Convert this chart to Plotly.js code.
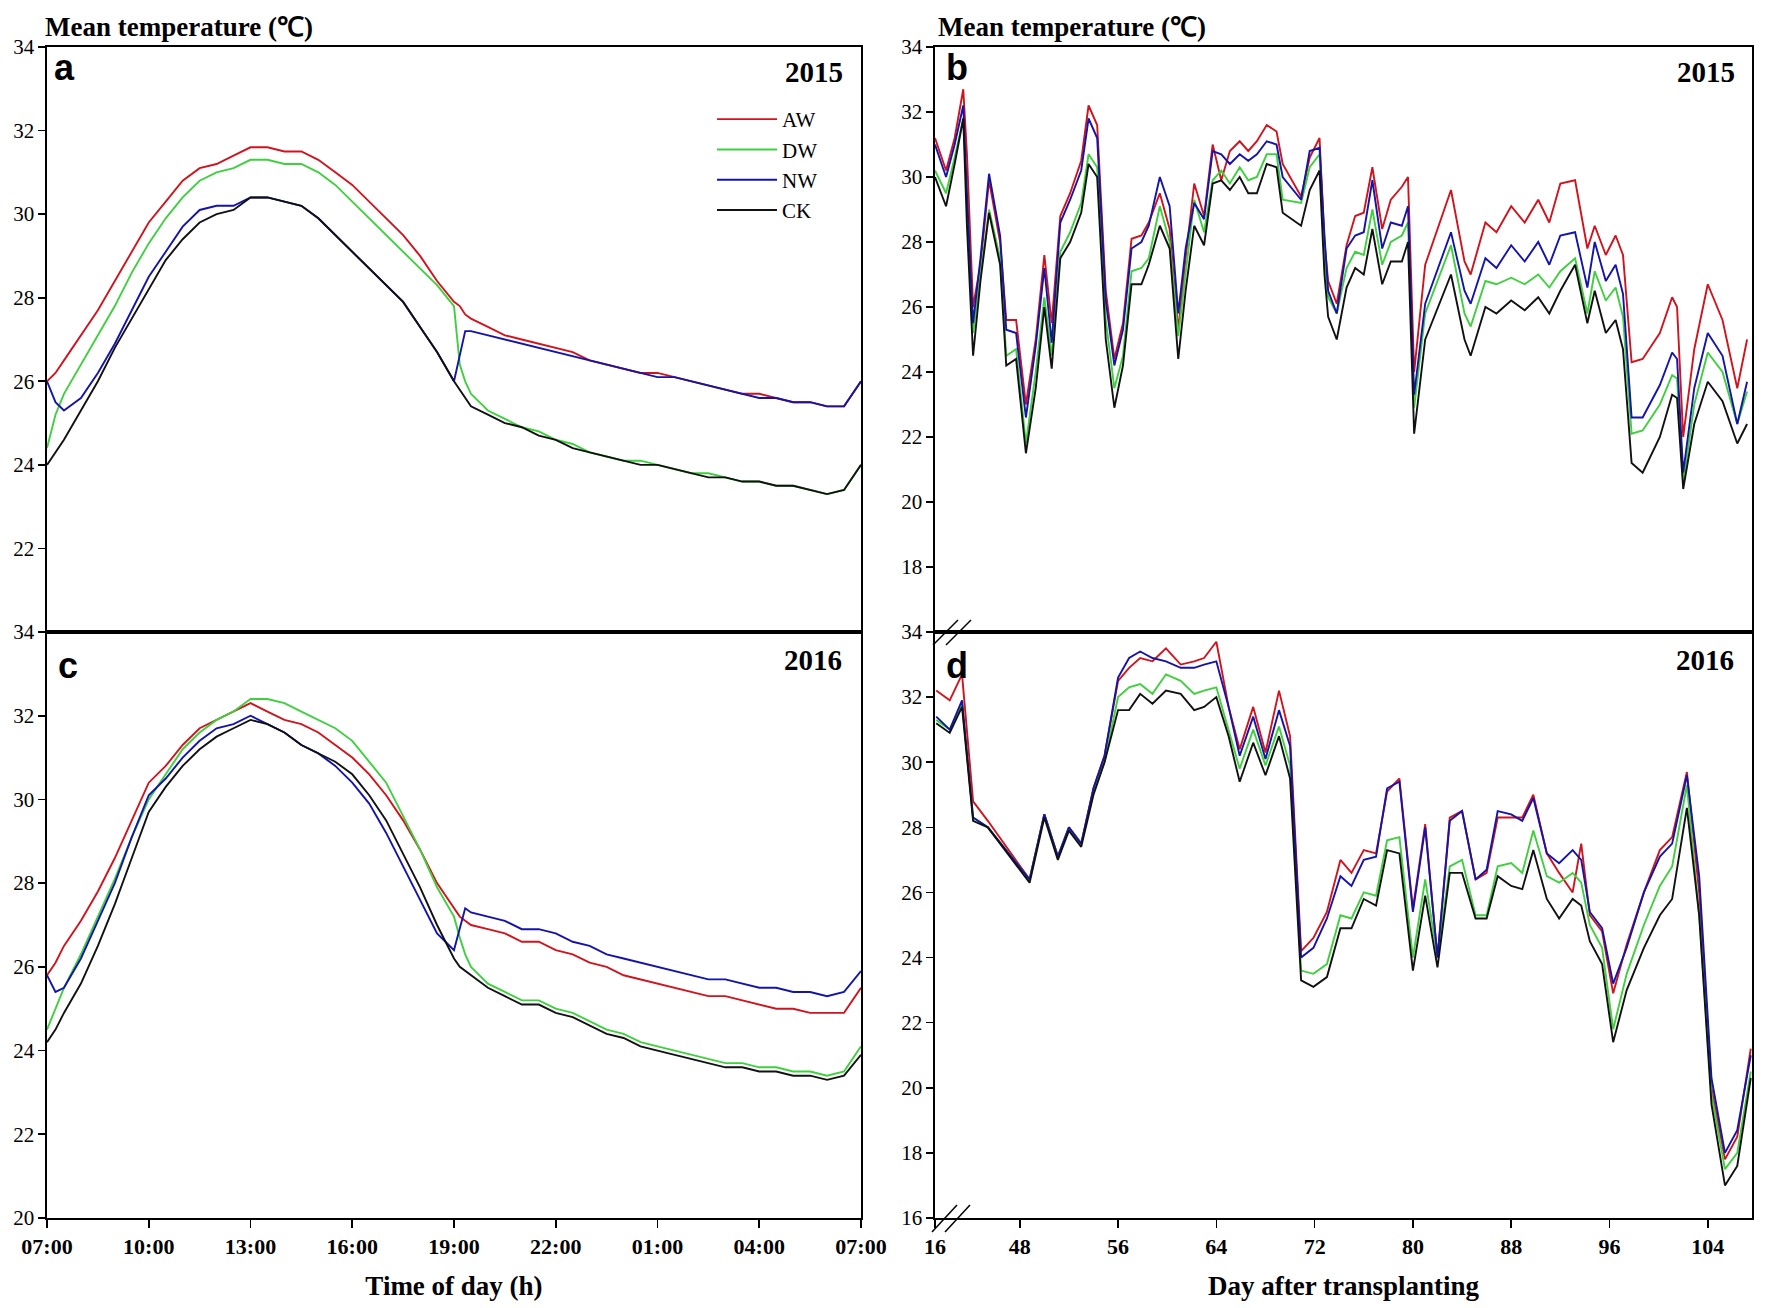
<!DOCTYPE html>
<html>
<head>
<meta charset="utf-8">
<script src="https://cdn.plot.ly/plotly-3.0.1.min.js"></script>
<style>html,body{margin:0;padding:0;background:#fff;}#chart{width:1772px;height:1308px;}</style>
</head>
<body>
<div id="chart"></div>
<script>
// ---------- DATA ----------
const seriesNames = ["AW", "DW", "NW", "CK"];
const hourTickVals = [0, 3, 6, 9, 12, 15, 18, 21, 24];
const hourTickText = ["07:00", "10:00", "13:00", "16:00", "19:00", "22:00", "01:00", "04:00", "07:00"];
const dayTickVals = [41.1, 48, 56, 64, 72, 80, 88, 96, 104];
const dayTickText = ["16", "48", "56", "64", "72", "80", "88", "96", "104"];

// hours after 07:00
const hours = [0,0.25,0.5,1,1.5,2,2.5,3,3.5,4,4.5,5,5.5,6,6.5,7,7.5,8,8.5,9,9.5,10,10.5,11,11.5,12,12.17,12.33,12.5,13,13.5,14,14.5,15,15.5,16,16.5,17,17.5,18,18.5,19,19.5,20,20.5,21,21.5,22,22.5,23,23.5,24];

// panel a (2015, diurnal)
const a_AW = [26.0,26.2,26.5,27.1,27.7,28.4,29.1,29.8,30.3,30.8,31.1,31.2,31.4,31.6,31.6,31.5,31.5,31.3,31.0,30.7,30.3,29.9,29.5,29.0,28.4,27.9,27.8,27.6,27.5,27.3,27.1,27.0,26.9,26.8,26.7,26.5,26.4,26.3,26.2,26.2,26.1,26.0,25.9,25.8,25.7,25.7,25.6,25.5,25.5,25.4,25.4,26.0];
const a_DW = [24.4,25.2,25.7,26.4,27.1,27.8,28.6,29.3,29.9,30.4,30.8,31.0,31.1,31.3,31.3,31.2,31.2,31.0,30.7,30.3,29.9,29.5,29.1,28.7,28.3,27.8,26.4,26.0,25.7,25.3,25.1,24.9,24.8,24.6,24.5,24.3,24.2,24.1,24.1,24.0,23.9,23.8,23.8,23.7,23.6,23.6,23.5,23.5,23.4,23.3,23.4,24.0];
const a_NW = [26.0,25.5,25.3,25.6,26.2,26.9,27.7,28.5,29.1,29.7,30.1,30.2,30.2,30.4,30.4,30.3,30.2,29.9,29.5,29.1,28.7,28.3,27.9,27.3,26.7,26.0,26.6,27.2,27.2,27.1,27.0,26.9,26.8,26.7,26.6,26.5,26.4,26.3,26.2,26.1,26.1,26.0,25.9,25.8,25.7,25.6,25.6,25.5,25.5,25.4,25.4,26.0];
const a_CK = [24.0,24.3,24.6,25.3,26.0,26.8,27.5,28.2,28.9,29.4,29.8,30.0,30.1,30.4,30.4,30.3,30.2,29.9,29.5,29.1,28.7,28.3,27.9,27.3,26.7,26.0,25.8,25.6,25.4,25.2,25.0,24.9,24.7,24.6,24.4,24.3,24.2,24.1,24.0,24.0,23.9,23.8,23.7,23.7,23.6,23.6,23.5,23.5,23.4,23.3,23.4,24.0];

// panel c (2016, diurnal)
const c_AW = [25.8,26.1,26.5,27.1,27.8,28.6,29.5,30.4,30.8,31.3,31.7,31.9,32.1,32.3,32.1,31.9,31.8,31.6,31.3,31.0,30.6,30.1,29.5,28.8,28.0,27.4,27.2,27.1,27.0,26.9,26.8,26.6,26.6,26.4,26.3,26.1,26.0,25.8,25.7,25.6,25.5,25.4,25.3,25.3,25.2,25.1,25.0,25.0,24.9,24.9,24.9,25.5];
const c_DW = [24.5,25.0,25.5,26.3,27.2,28.1,29.1,30.0,30.6,31.2,31.6,31.9,32.1,32.4,32.4,32.3,32.1,31.9,31.7,31.4,30.9,30.4,29.6,28.8,27.9,27.2,26.7,26.3,26.0,25.6,25.4,25.2,25.2,25.0,24.9,24.7,24.5,24.4,24.2,24.1,24.0,23.9,23.8,23.7,23.7,23.6,23.6,23.5,23.5,23.4,23.5,24.1];
const c_NW = [25.8,25.4,25.5,26.2,27.1,28.0,29.1,30.1,30.5,31.0,31.4,31.7,31.8,32.0,31.8,31.6,31.3,31.1,30.8,30.4,29.9,29.2,28.4,27.6,26.8,26.4,26.9,27.4,27.3,27.2,27.1,26.9,26.9,26.8,26.6,26.5,26.3,26.2,26.1,26.0,25.9,25.8,25.7,25.7,25.6,25.5,25.5,25.4,25.4,25.3,25.4,25.9];
const c_CK = [24.2,24.5,24.9,25.6,26.5,27.5,28.6,29.7,30.3,30.8,31.2,31.5,31.7,31.9,31.8,31.6,31.3,31.1,30.9,30.6,30.1,29.5,28.7,27.9,27.0,26.2,26.0,25.9,25.8,25.5,25.3,25.1,25.1,24.9,24.8,24.6,24.4,24.3,24.1,24.0,23.9,23.8,23.7,23.6,23.6,23.5,23.5,23.4,23.4,23.3,23.4,23.9];

// panel b (2015, daily)
const days2015 = [41.1,42.0,42.7,43.4,43.7,44.2,44.8,45.5,46.4,46.9,47.7,48.5,49.3,50.0,50.6,51.3,52.1,53.0,53.6,54.3,55.0,55.7,56.4,57.1,57.9,58.5,59.4,60.2,60.9,61.5,62.2,63.0,63.7,64.4,65.1,65.9,66.6,67.3,68.1,68.9,69.4,70.9,71.6,72.4,72.8,73.1,73.8,74.6,75.3,76.0,76.7,77.5,78.2,79.1,79.6,80.1,81.0,83.1,84.2,84.7,85.9,86.8,88.0,89.1,90.2,91.1,92.0,93.2,94.2,94.8,95.7,96.5,97.1,97.8,98.7,100.1,101.1,101.5,102.0,102.9,104.0,105.2,106.4,107.2];
const b_AW = [31.2,30.2,31.2,32.7,30.7,26.0,27.3,29.9,28.0,25.6,25.6,23.0,25.0,27.6,25.5,28.8,29.5,30.5,32.2,31.6,26.5,24.4,25.5,28.1,28.2,28.6,29.5,28.4,25.3,27.5,29.8,28.8,31.0,29.9,30.8,31.1,30.8,31.1,31.6,31.4,30.4,29.4,30.6,31.2,28.0,26.8,26.1,27.9,28.8,28.9,30.3,28.4,29.3,29.7,30.0,24.0,27.3,29.6,27.4,27.0,28.6,28.3,29.1,28.6,29.3,28.6,29.8,29.9,27.8,28.5,27.6,28.2,27.6,24.3,24.4,25.2,26.3,26.0,22.0,24.7,26.7,25.6,23.5,25.0];
const b_NW = [31.0,30.0,31.0,32.2,29.5,25.5,27.5,30.1,28.2,25.3,25.2,22.6,24.8,27.2,24.9,28.6,29.3,30.2,31.8,31.2,26.2,24.2,25.3,27.8,28.0,28.5,30.0,29.1,25.8,27.8,29.2,28.7,30.8,30.7,30.4,30.7,30.5,30.7,31.1,31.0,30.0,29.3,30.8,30.9,28.2,26.5,25.8,27.8,28.2,28.3,29.9,27.8,28.6,28.5,29.1,23.3,26.1,28.3,26.5,26.1,27.5,27.2,27.9,27.4,28.0,27.3,28.2,28.3,26.6,28.0,26.8,27.3,26.4,22.6,22.6,23.6,24.6,24.4,20.9,23.5,25.2,24.5,22.4,23.7];
const b_DW = [30.2,29.5,30.6,31.8,29.5,25.2,27.0,29.0,27.5,24.5,24.7,21.8,24.0,26.3,24.5,27.7,28.3,29.2,30.7,30.3,25.6,23.5,24.5,27.1,27.2,27.5,29.1,28.0,25.1,27.0,29.3,28.3,29.9,30.2,29.8,30.3,29.9,30.0,30.7,30.7,29.3,29.2,30.3,30.7,27.5,26.3,25.8,27.2,27.7,27.6,29.0,27.3,28.0,28.2,28.6,22.9,25.8,27.9,25.8,25.4,26.8,26.7,26.9,26.7,27.0,26.6,27.1,27.5,25.8,27.1,26.2,26.6,25.7,22.1,22.2,23.0,23.9,23.8,20.6,23.0,24.6,24.0,22.4,23.4];
const b_CK = [30.0,29.1,30.4,31.8,28.5,24.5,26.8,28.9,27.3,24.2,24.4,21.5,23.5,26.0,24.1,27.5,28.0,28.9,30.4,30.0,25.0,22.9,24.2,26.7,26.7,27.3,28.5,27.8,24.4,26.5,28.5,27.9,29.8,29.9,29.6,30.0,29.5,29.5,30.4,30.3,28.9,28.5,29.6,30.2,27.0,25.7,25.0,26.6,27.2,27.0,28.4,26.7,27.4,27.4,28.0,22.1,25.0,27.0,25.0,24.5,26.0,25.8,26.2,25.9,26.3,25.8,26.5,27.3,25.5,26.5,25.2,25.6,24.7,21.2,20.9,22.0,23.3,23.2,20.4,22.4,23.7,23.1,21.8,22.4];

// panel d (2016, daily)
const days2016 = [41.2,42.3,43.3,44.2,45.4,48.8,50.0,51.1,52.0,53.0,54.0,54.9,56.0,56.9,57.8,58.8,59.9,61.1,62.2,63.0,64.0,65.0,65.9,67.0,68.0,69.1,70.0,70.9,71.9,73.0,74.1,75.0,76.0,77.0,77.9,78.9,80.0,81.0,82.0,83.0,84.0,85.1,86.0,86.9,88.0,88.9,89.8,90.9,91.9,93.0,93.7,94.4,95.4,96.3,97.4,98.8,100.1,101.1,102.3,103.3,104.3,105.4,106.4,107.5];
const d_AW = [32.2,31.9,32.7,28.8,28.2,26.4,28.4,27.1,28.0,27.5,29.2,30.2,32.5,32.9,33.2,33.1,33.5,33.0,33.1,33.2,33.7,31.7,30.4,31.7,30.3,32.2,30.8,24.2,24.6,25.4,27.0,26.6,27.3,27.2,29.1,29.5,25.5,28.1,24.0,28.3,28.5,26.4,26.6,28.3,28.3,28.3,29.0,27.2,26.6,26.0,27.5,25.3,24.8,22.9,24.4,26.0,27.3,27.7,29.7,26.0,20.0,17.8,18.5,21.2];
const d_NW = [31.4,31.0,31.9,28.3,28.0,26.4,28.4,27.1,28.0,27.5,29.2,30.2,32.6,33.2,33.4,33.2,33.1,32.9,32.9,33.0,33.1,31.7,30.2,31.4,30.1,31.6,30.5,24.0,24.3,25.2,26.5,26.2,27.0,27.1,29.2,29.4,25.4,28.0,24.0,28.2,28.5,26.4,26.7,28.5,28.4,28.2,28.9,27.2,26.9,27.3,27.0,25.4,24.9,23.2,24.3,26.0,27.1,27.5,29.6,26.5,20.3,18.0,18.7,21.0];
const d_DW = [31.3,31.0,31.8,28.3,28.0,26.4,28.4,27.1,28.0,27.5,29.1,30.0,32.0,32.3,32.4,32.1,32.7,32.5,32.1,32.2,32.3,31.0,29.8,31.0,29.9,31.1,29.9,23.6,23.5,23.8,25.3,25.2,26.0,25.9,27.6,27.7,24.0,26.4,24.0,26.8,27.0,25.3,25.3,26.8,26.9,26.6,27.9,26.5,26.3,26.6,26.3,25.0,24.3,21.8,23.5,25.0,26.2,26.8,29.3,25.3,19.8,17.5,18.0,20.5];
const d_CK = [31.2,30.9,31.7,28.2,28.0,26.3,28.3,27.0,27.9,27.4,29.0,30.0,31.6,31.6,32.1,31.8,32.2,32.1,31.6,31.7,32.0,30.8,29.4,30.6,29.6,30.8,29.5,23.3,23.1,23.4,24.9,24.9,25.8,25.6,27.3,27.2,23.6,25.9,23.7,26.6,26.6,25.2,25.2,26.5,26.2,26.1,27.3,25.8,25.2,25.8,25.6,24.5,23.8,21.4,23.0,24.3,25.3,25.8,28.6,25.3,19.5,17.0,17.6,20.3];

// ---------- STYLE ----------
const W = 1772, H = 1308;
const X = p => p / W;
const Y = p => 1 - p / H;
const colors = {AW: "#d0141e", DW: "#3fcf3f", NW: "#1414a8", CK: "#111111"};
const serif = "Liberation Serif, Times New Roman, serif";
const sans = "Liberation Sans, Arial, sans-serif";

const panels = [
  {x: hours, ys: [a_AW, a_DW, a_NW, a_CK], xa: "x", ya: "y", legend: true},
  {x: days2015, ys: [b_AW, b_DW, b_NW, b_CK], xa: "x2", ya: "y2", legend: false},
  {x: hours, ys: [c_AW, c_DW, c_NW, c_CK], xa: "x3", ya: "y3", legend: false},
  {x: days2016, ys: [d_AW, d_DW, d_NW, d_CK], xa: "x4", ya: "y4", legend: false}
];

const traces = [];
panels.forEach(p => {
  seriesNames.forEach((name, i) => {
    traces.push({
      type: "scatter", mode: "lines", x: p.x, y: p.ys[i], name: name,
      xaxis: p.xa, yaxis: p.ya, legendgroup: name, showlegend: p.legend,
      legendrank: i + 1,
      line: {color: colors[name], width: 1.9},
      hoverinfo: "skip"
    });
  });
});

const leftDom = [X(47), X(861)];
const rightDom = [X(935), X(1752)];
const topDom = [Y(632), Y(47)];
const botDom = [Y(1218), Y(632)];

const baseAxis = {
  showline: true, mirror: true, linecolor: "#000", linewidth: 1.6,
  showgrid: false, zeroline: false, fixedrange: true
};
const yTickFont = {family: serif, size: 21, color: "#000"};
const xTickFont = {family: serif, size: 22, color: "#000", weight: "bold"};

const layout = {
  width: W, height: H,
  margin: {l: 0, r: 0, t: 0, b: 0},
  paper_bgcolor: "#fff", plot_bgcolor: "#fff",
  showlegend: true,
  legend: {
    x: X(712), y: Y(99), xanchor: "left", yanchor: "top",
    font: {family: serif, size: 21, color: "#000"},
    bgcolor: "rgba(0,0,0,0)", borderwidth: 0, itemwidth: 60,
    tracegroupgap: 0
  },
  xaxis: Object.assign({}, baseAxis, {domain: leftDom, anchor: "y", range: [0, 24], showticklabels: false, ticks: ""}),
  yaxis: Object.assign({}, baseAxis, {domain: topDom, anchor: "x", range: [20, 34],
    tickvals: [22, 24, 26, 28, 30, 32, 34], ticks: "outside", ticklen: 7, tickwidth: 1.6, tickcolor: "#000", tickfont: yTickFont}),
  xaxis3: Object.assign({}, baseAxis, {domain: leftDom, anchor: "y3", range: [0, 24],
    tickvals: hourTickVals, ticktext: hourTickText, ticks: "outside", ticklen: 8, tickwidth: 1.6, tickcolor: "#000", tickfont: xTickFont,
    title: {text: "Time of day (h)", font: {family: serif, size: 27, color: "#000", weight: "bold"}, standoff: 18}}),
  yaxis3: Object.assign({}, baseAxis, {domain: botDom, anchor: "x3", range: [20, 34],
    tickvals: [20, 22, 24, 26, 28, 30, 32, 34], ticks: "outside", ticklen: 7, tickwidth: 1.6, tickcolor: "#000", tickfont: yTickFont}),
  xaxis2: Object.assign({}, baseAxis, {domain: rightDom, anchor: "y2", range: [41.1, 107.6], showticklabels: false, ticks: ""}),
  yaxis2: Object.assign({}, baseAxis, {domain: topDom, anchor: "x2", range: [16, 34],
    tickvals: [18, 20, 22, 24, 26, 28, 30, 32, 34], ticks: "outside", ticklen: 7, tickwidth: 1.6, tickcolor: "#000", tickfont: yTickFont}),
  xaxis4: Object.assign({}, baseAxis, {domain: rightDom, anchor: "y4", range: [41.1, 107.6],
    tickvals: dayTickVals, ticktext: dayTickText, ticks: "outside", ticklen: 8, tickwidth: 1.6, tickcolor: "#000", tickfont: xTickFont,
    title: {text: "Day after transplanting", font: {family: serif, size: 27, color: "#000", weight: "bold"}, standoff: 18}}),
  yaxis4: Object.assign({}, baseAxis, {domain: botDom, anchor: "x4", range: [16, 34],
    tickvals: [16, 18, 20, 22, 24, 26, 28, 30, 32, 34], ticks: "outside", ticklen: 7, tickwidth: 1.6, tickcolor: "#000", tickfont: yTickFont}),
  annotations: [],
  shapes: []
};

function note(text, x, y, opts) {
  layout.annotations.push(Object.assign({
    text: text, xref: "paper", yref: "paper", x: X(x), y: Y(y), showarrow: false,
    xanchor: "left", yanchor: "middle"
  }, opts));
}
const titleFont = {family: serif, size: 27, color: "#000", weight: "bold"};
note("Mean temperature (℃)", 43, 27, {font: titleFont});
note("Mean temperature (℃)", 936, 27, {font: titleFont});
const letterFont = {family: sans, size: 36, color: "#000", weight: "bold"};
note("a", 52, 68, {font: letterFont});
note("b", 944, 68, {font: letterFont});
note("c", 56, 666, {font: letterFont});
note("d", 944, 666, {font: letterFont});
const yearFont = {family: serif, size: 29, color: "#000", weight: "bold"};
note("2015", 845, 72, {font: yearFont, xanchor: "right"});
note("2015", 1737, 72, {font: yearFont, xanchor: "right"});
note("2016", 844, 660, {font: yearFont, xanchor: "right"});
note("2016", 1736, 660, {font: yearFont, xanchor: "right"});

// axis-break marks
function brk(x0, y0, x1, y1) {
  layout.shapes.push({type: "line", xref: "paper", yref: "paper",
    x0: X(x0), y0: Y(y0), x1: X(x1), y1: Y(y1), line: {color: "#000", width: 1.5}});
}
brk(933, 645, 958, 620); brk(946, 645, 971, 620);
brk(932, 1232, 957, 1205); brk(945, 1232, 970, 1205);

Plotly.newPlot("chart", traces, layout, {displayModeBar: false, staticPlot: true});
</script>
</body>
</html>
